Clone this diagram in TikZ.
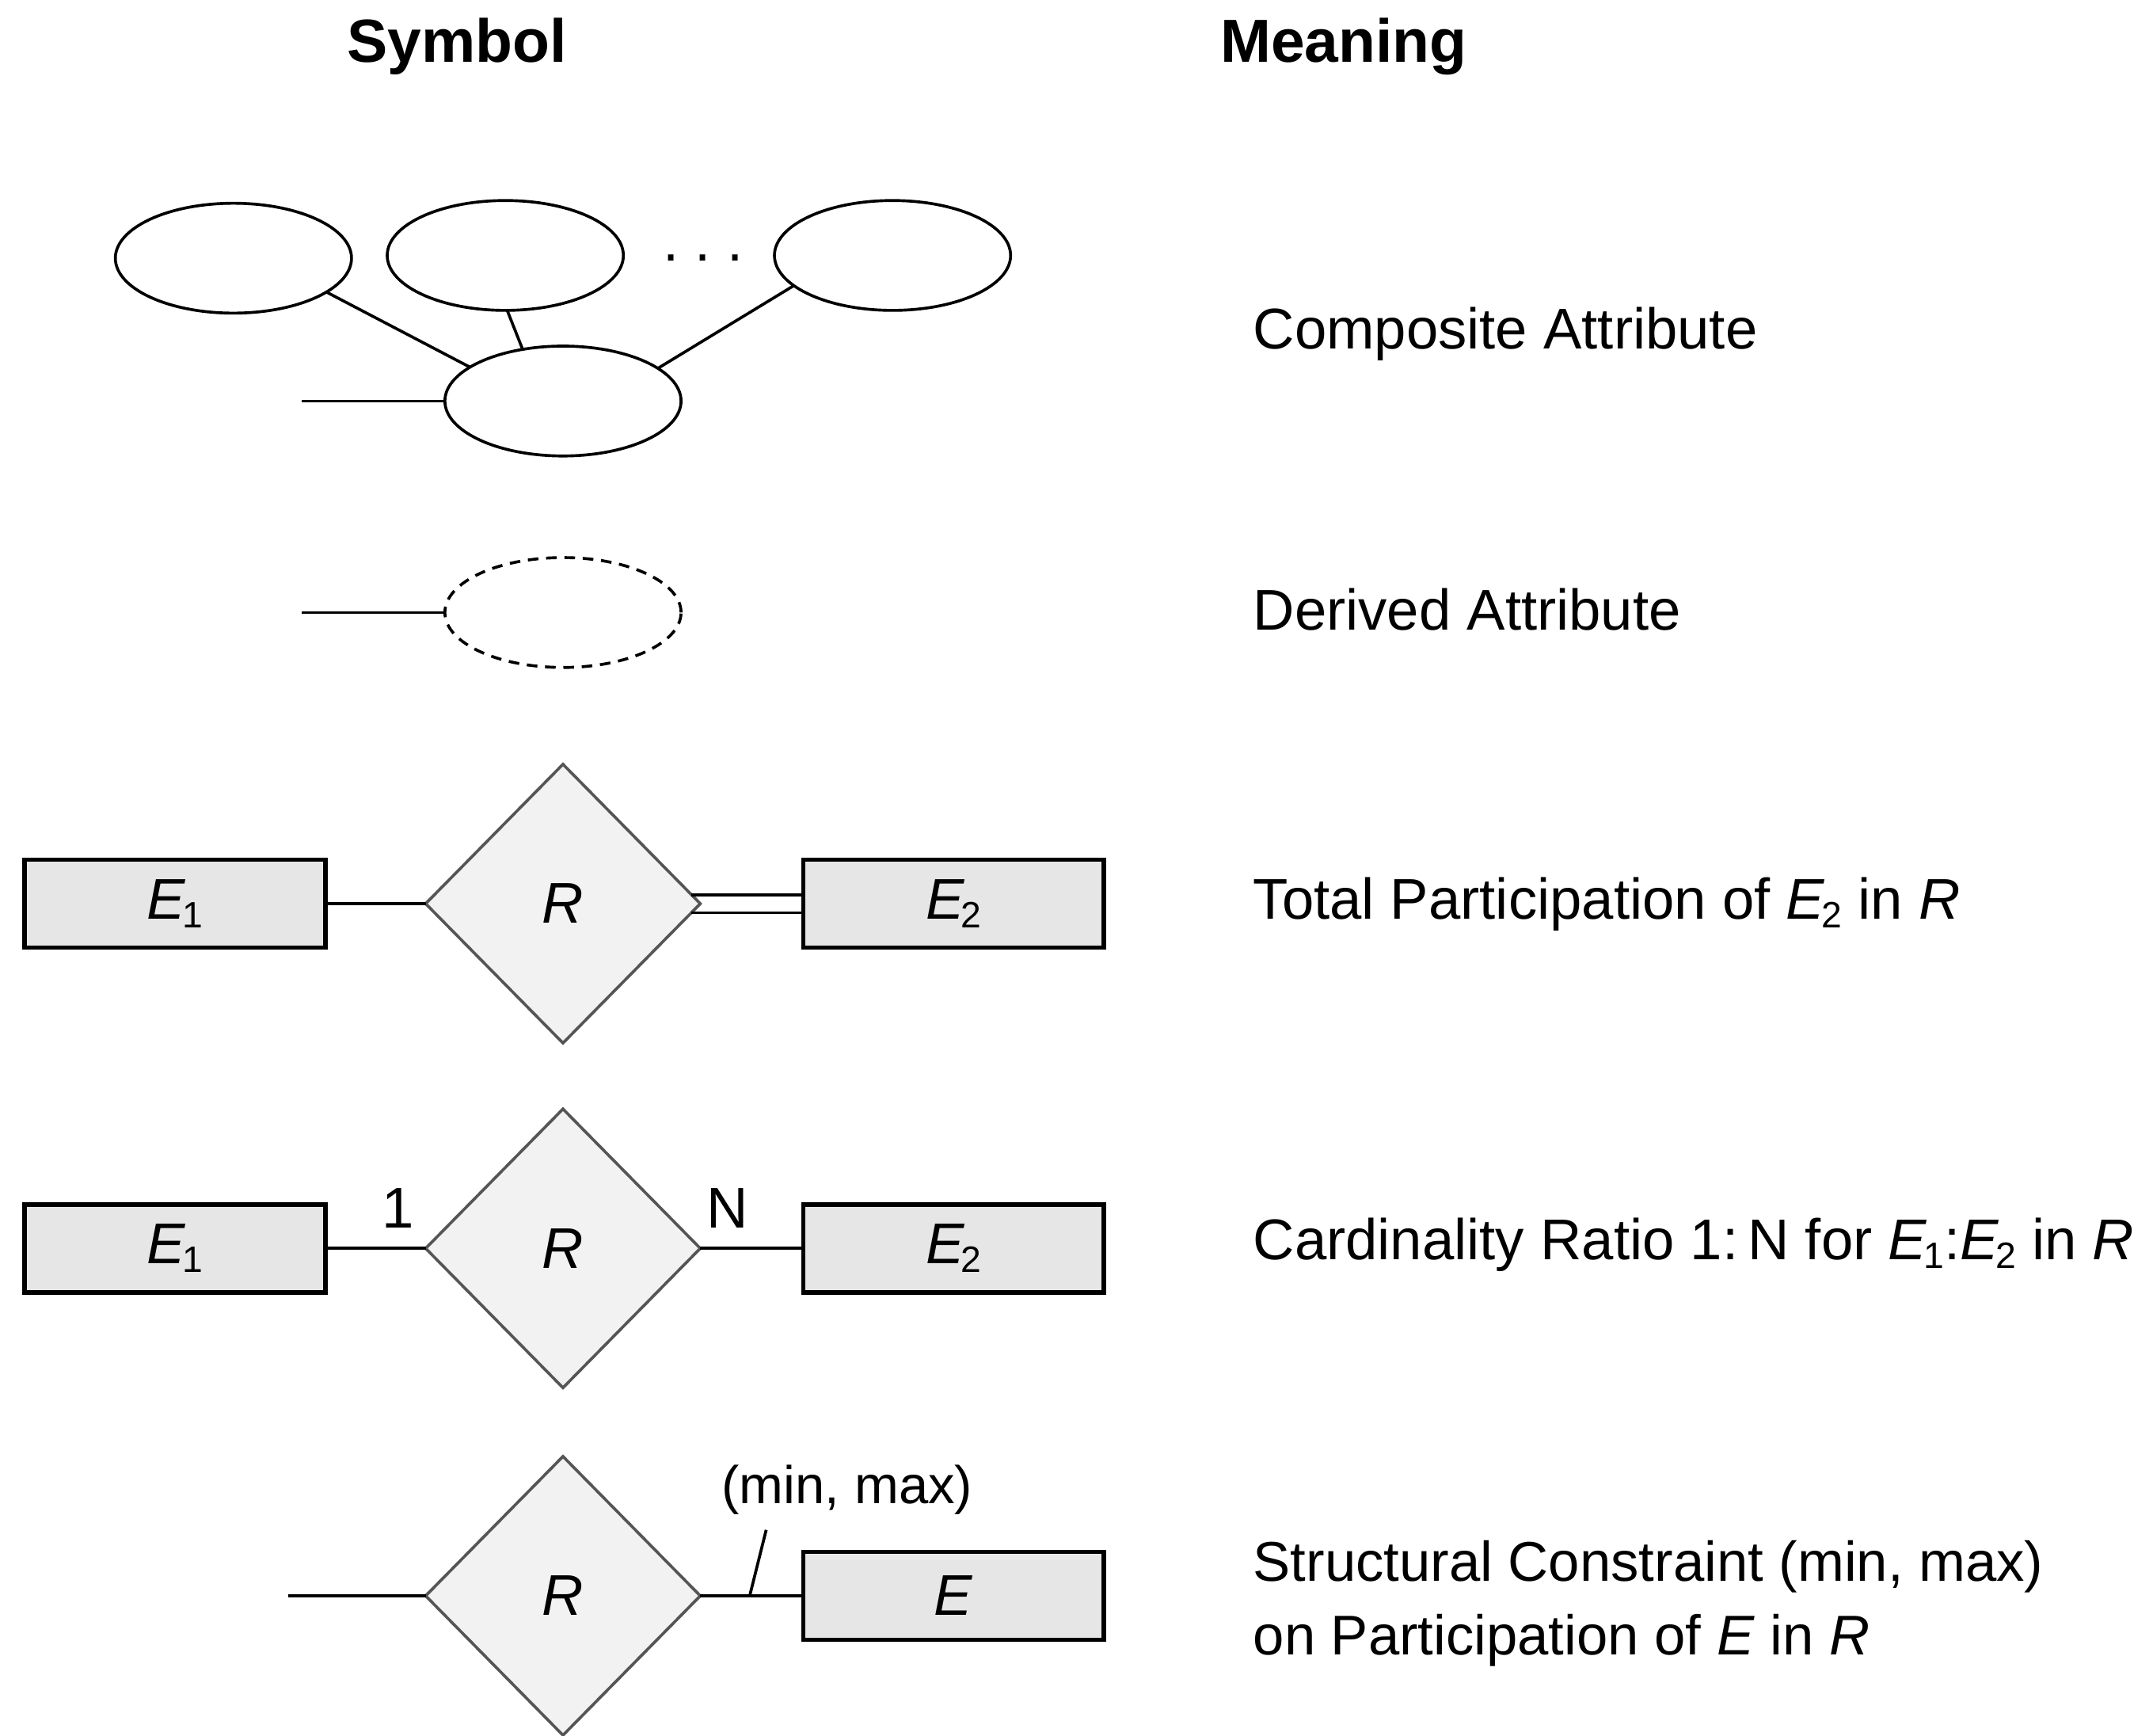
\documentclass[tikz,border=0pt]{standalone}
\usepackage{fontspec}
\setmainfont{Liberation Sans}
\usetikzlibrary{positioning,shapes.geometric,calc}
\definecolor{entfill}{HTML}{E6E6E6}
\definecolor{relfill}{HTML}{F2F2F2}
\definecolor{reldraw}{HTML}{555555}
\newcommand{\ent}[2]{\textit{#1}\kern-0.06em\raisebox{-0.3ex}{\fontsize{7.6}{8}\selectfont #2}}

\begin{document}
\begin{tikzpicture}[
  font=\fontsize{11.9}{15}\selectfont,
  entity/.style={
    draw=black, fill=entfill, line width=0.9pt, minimum width=2.19cm, minimum height=0.64cm,
    inner sep=0pt, outer sep=0pt
  },
  relation/.style={
    diamond, draw=reldraw, fill=relfill, line width=0.6pt, minimum width=2.0cm, minimum height=2.03cm,
    inner sep=0pt, outer sep=0pt
  },
  attrib/.style={
    ellipse, draw=black, line width=0.6pt, minimum width=1.72cm, minimum height=0.8cm,
    inner sep=0pt, outer sep=0pt
  },
  link/.style={draw=black, line width=0.6pt},
  meaning/.style={anchor=base west, align=left, inner sep=0pt},
  header/.style={anchor=base, font=\fontsize{12.6}{15}\selectfont\bfseries, inner sep=0pt}
]
  \useasboundingbox (0,0) rectangle (15.68,-12.64);

  % Column headers
  \node[header] (symhead) at (3.33,-0.45) {Symbol};
  \node[header, anchor=base west] (meanhead) at (8.88,-0.45) {Meaning};

  % Row 1: composite attribute
  \node[attrib] (comp) at (4.10,-2.92) {};
  \node[attrib] (part1) at (1.70,-1.88) {};
  \node[attrib] (part2) at (3.68,-1.86) {};
  \node[attrib] (partn) at (6.50,-1.86) {};
  \node[anchor=base, inner sep=0pt] (dots) at (5.12,-1.90) {.\ .\ .};
  \coordinate (compin) at (2.20,-2.92);
  \draw[link] (compin) -- (comp.west);
  \draw[link] (part1.-20) -- (comp.160);
  \draw[link] (part2.-88) -- (comp.128);
  \draw[link] (partn.197) -- (comp.19);

  % Row 2: derived attribute
  \node[attrib, dash pattern=on 2.2pt off 1.6pt] (derived) at (4.10,-4.46) {};
  \coordinate (derin) at (2.20,-4.46);
  \draw[link] (derin) -- (derived.west);

  % Row 3: total participation
  \node[relation] (rel1) at (4.10,-6.58) {\textit{R}};
  \node[entity, left=0.73cm of rel1] (ent11) {\ent{E}{1}};
  \node[entity, right=0.75cm of rel1] (ent12) {\ent{E}{2}};
  \draw[link] (ent11.east) -- (rel1.west);
  \draw[link] (rel1.4) -- (rel1.4 -| ent12.west);
  \draw[link] (rel1.-4) -- (rel1.-4 -| ent12.west);

  % Row 4: cardinality ratio
  \node[relation] (rel2) at (4.10,-9.09) {\textit{R}};
  \node[entity, left=0.73cm of rel2] (ent21) {\ent{E}{1}};
  \node[entity, right=0.75cm of rel2] (ent22) {\ent{E}{2}};
  \draw[link] (ent21.east) -- (rel2.west);
  \draw[link] (rel2.east) -- (ent22.west);
  \node (card1) at (2.90,-8.80) {1};
  \node (cardn) at (5.30,-8.80) {N};

  % Row 5: structural constraint
  \node[relation] (rel3) at (4.10,-11.62) {\textit{R}};
  \node[entity, right=0.75cm of rel3] (ent3) {\textit{E}};
  \coordinate (relin) at (2.10,-11.62);
  \draw[link] (relin) -- (rel3.west);
  \draw[link] (rel3.east) -- (ent3.west);
  \coordinate (tickfoot) at ($(rel3.east)!0.48!(ent3.west)$);
  \coordinate (tickhead) at ($(tickfoot)+(0.12,0.48)$);
  \draw[link] (tickfoot) -- (tickhead);
  \node[font=\fontsize{11}{13}\selectfont] (minmax) at (6.17,-10.85) {(min, max)};

  % Meanings
  \node[meaning] (mean1) at (9.12,-2.54) {Composite Attribute};
  \node[meaning] (mean2) at (9.12,-4.59) {Derived Attribute};
  \node[meaning] (mean3) at (9.12,-6.69) {Total Participation of \ent{E}{2} in \textit{R}};
  \node[meaning] (mean4) at (9.12,-9.17) {Cardinality Ratio 1:\,N for \ent{E}{1}:\ent{E}{2} in \textit{R}};
  \node[meaning, font=\fontsize{11.6}{15.3}\selectfont] (mean5) at (9.12,-12.05) {Structural Constraint (min, max)\\on Participation of \textit{E} in \textit{R}};
\end{tikzpicture}
\end{document}
